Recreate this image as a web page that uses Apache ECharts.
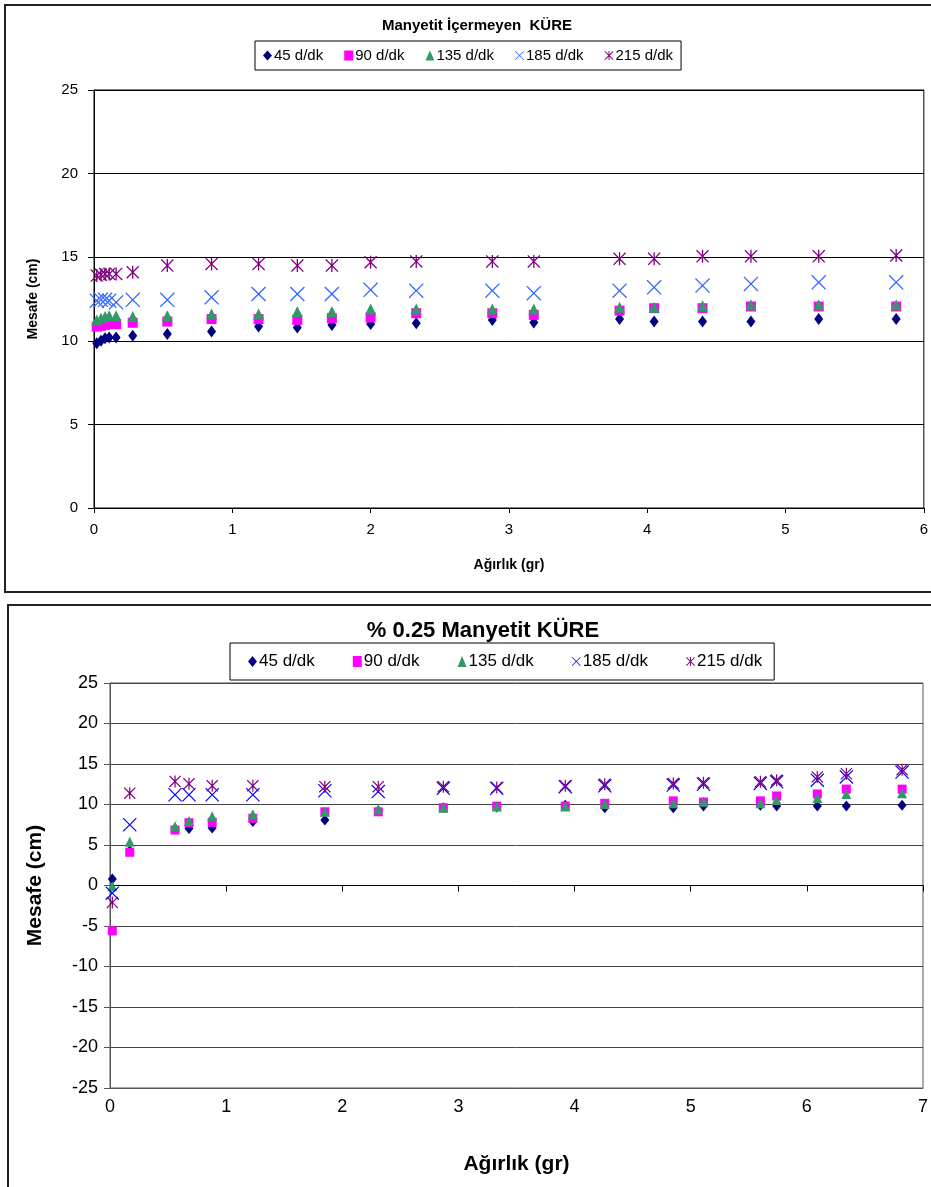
<!DOCTYPE html>
<html><head><meta charset="utf-8">
<script src="https://cdn.jsdelivr.net/npm/echarts@6/dist/echarts.min.js"></script>
<style>html,body{margin:0;padding:0;background:#fff}#c{width:931px;height:1187px}</style>
</head><body><div id="c"></div>
<script>
// ---------- data ----------
const seriesNames = ['45 d/dk', '90 d/dk', '135 d/dk', '185 d/dk', '215 d/dk'];
const titleTop = 'Manyetit İçermeyen  KÜRE';
const titleBottom = '% 0.25 Manyetit KÜRE';
const xName = 'Ağırlık (gr)';
const yName = 'Mesafe (cm)';

const topX    = [0.02, 0.05, 0.08, 0.11, 0.16, 0.28, 0.53, 0.85, 1.19, 1.47, 1.72, 2.0, 2.33, 2.88, 3.18, 3.8, 4.05, 4.4, 4.75, 5.24, 5.8];
const top45   = [9.85, 10.0, 10.15, 10.2, 10.2, 10.3, 10.4, 10.55, 10.85, 10.8, 10.95, 11.0, 11.05, 11.25, 11.1, 11.3, 11.15, 11.15, 11.15, 11.3, 11.3];
const top90   = [10.85, 10.9, 10.95, 11.0, 11.0, 11.08, 11.15, 11.3, 11.3, 11.25, 11.35, 11.4, 11.65, 11.65, 11.55, 11.8, 11.95, 11.95, 12.05, 12.05, 12.05];
const top135  = [11.25, 11.35, 11.45, 11.5, 11.5, 11.45, 11.5, 11.6, 11.6, 11.75, 11.75, 11.9, 11.9, 11.9, 11.9, 12.0, 12.0, 12.1, 12.15, 12.15, 12.15];
const top185  = [12.4, 12.45, 12.45, 12.4, 12.3, 12.45, 12.45, 12.6, 12.8, 12.8, 12.8, 13.05, 13.0, 13.0, 12.85, 13.0, 13.2, 13.3, 13.4, 13.5, 13.5];
const top215  = [13.9, 13.95, 14.0, 14.0, 14.0, 14.1, 14.5, 14.6, 14.6, 14.5, 14.5, 14.7, 14.75, 14.75, 14.75, 14.9, 14.9, 15.05, 15.05, 15.05, 15.1];

const botX    = [0.02, 0.17, 0.56, 0.68, 0.88, 1.23, 1.85, 2.31, 2.87, 3.33, 3.92, 4.26, 4.85, 5.11, 5.6, 5.74, 6.09, 6.34, 6.82];
const bot45   = [0.8, 4.3, 7.0, 7.05, 7.1, 7.9, 8.1, 9.2, 9.6, 9.7, 9.9, 9.6, 9.6, 9.8, 9.9, 9.8, 9.8, 9.8, 9.9];
const bot90   = [-5.6, 4.1, 6.85, 7.75, 7.8, 8.3, 9.1, 9.1, 9.6, 9.8, 9.8, 10.15, 10.45, 10.3, 10.45, 11.05, 11.3, 11.9, 11.9];
const bot135  = [-0.1, 5.4, 7.3, 7.95, 8.55, 8.8, 9.1, 9.4, 9.6, 9.75, 9.75, 10.05, 10.15, 10.35, 10.15, 10.55, 10.8, 11.3, 11.4];
const bot185  = [-0.95, 7.5, 11.2, 11.2, 11.2, 11.2, 11.7, 11.6, 12.0, 12.0, 12.2, 12.3, 12.4, 12.5, 12.6, 12.8, 13.0, 13.4, 14.0];
const bot215  = [-2.1, 11.4, 12.85, 12.55, 12.3, 12.3, 12.2, 12.2, 12.2, 12.1, 12.3, 12.5, 12.6, 12.7, 12.8, 13.0, 13.4, 13.8, 14.3];

// ---------- styling ----------
const FONT = 'Liberation Sans, Arial, sans-serif';
const X_PATH = 'path://M0,6L6,0L50,44L94,0L100,6L56,50L100,94L94,100L50,56L6,100L0,94L44,50Z';
const STAR_PATH = 'path://M0,7L7,0L50,43L93,0L100,7L57,50L100,93L93,100L50,57L7,100L0,93L43,50ZM45,0L55,0L55,100L45,100Z';

const topColors = ['#000080', '#FF00FF', '#339966', '#3366FF', '#800080'];
const botColors = ['#000080', '#FF00FF', '#339966', '#0000FF', '#800080'];
const symbols = ['diamond', 'rect', 'triangle', X_PATH, STAR_PATH];
const topSizes = [[9, 12], 10, [11, 11], 15, 13];
const botSizes = [[9, 11], 9, [10, 10], 14, 12];

function pairs(xs, ys) { return xs.map((x, i) => [x, ys[i]]); }
const topData = [top45, top90, top135, top185, top215];
const botData = [bot45, bot90, bot135, bot185, bot215];

const series = [];
seriesNames.forEach((n, i) => {
  series.push({
    name: n, type: 'scatter', xAxisIndex: 0, yAxisIndex: 0,
    symbol: symbols[i], symbolSize: topSizes[i],
    itemStyle: { color: topColors[i], opacity: 1 },
    data: pairs(topX, topData[i]), z: 2 + i
  });
});
seriesNames.forEach((n, i) => {
  series.push({
    name: n, type: 'scatter', xAxisIndex: 1, yAxisIndex: 1,
    symbol: symbols[i], symbolSize: botSizes[i],
    itemStyle: { color: botColors[i], opacity: 1 },
    data: pairs(botX, botData[i]), z: 2 + i
  });
});

const chart = echarts.init(document.getElementById('c'));
chart.setOption({
  animation: false,
  backgroundColor: '#fff',
  textStyle: { fontFamily: FONT },
  title: [
    { text: titleTop, left: 472, top: 13, textAlign: 'center',
      textStyle: { fontFamily: FONT, fontSize: 15, fontWeight: 'bold', color: '#000' } },
    { text: titleBottom, left: 478, top: 615, textAlign: 'center',
      textStyle: { fontFamily: FONT, fontSize: 22, fontWeight: 'bold', color: '#000' } }
  ],
  legend: [
    { data: seriesNames.map((n, i) => ({ name: n, itemStyle: { color: topColors[i] } })),
      left: 255, top: 41, orient: 'horizontal', padding: [7, 8, 7, 8],
      borderColor: '#000', borderWidth: 1, itemGap: 21, itemWidth: 9, itemHeight: 10,
      selectedMode: false,
      textStyle: { fontFamily: FONT, fontSize: 15, color: '#000', padding: [0, 0, 0, -3] } },
    { data: seriesNames.map((n, i) => ({ name: n, itemStyle: { color: botColors[i] } })),
      left: 230, top: 643, orient: 'horizontal', padding: [10, 12, 10, 18],
      borderColor: '#000', borderWidth: 1, itemGap: 38, itemWidth: 9, itemHeight: 11,
      selectedMode: false,
      textStyle: { fontFamily: FONT, fontSize: 17, color: '#000', padding: [0, 0, 0, -3] } }
  ],
  grid: [
    { left: 94, right: 4, top: 90, height: 418, show: true, borderColor: '#000', borderWidth: 1, backgroundColor: 'transparent' },
    { left: 110, right: 3, top: 683, height: 405, show: true, borderColor: '#555', borderWidth: 1, backgroundColor: 'transparent' }
  ],
  xAxis: [
    { gridIndex: 0, type: 'value', min: 0, max: 6, interval: 1, position: 'bottom',
      axisLine: { show: true, onZero: false, lineStyle: { color: '#000', width: 1 } },
      axisTick: { show: true, length: 5, lineStyle: { color: '#000' } },
      axisLabel: { fontFamily: FONT, fontSize: 15, color: '#000', margin: 14 },
      splitLine: { show: false },
      name: xName, nameLocation: 'middle', nameGap: 50,
      nameTextStyle: { fontFamily: FONT, fontSize: 14, fontWeight: 'bold', color: '#000' } },
    { gridIndex: 1, type: 'value', min: 0, max: 7, interval: 1, position: 'bottom',
      axisLine: { show: true, onZero: false, lineStyle: { color: '#555', width: 1 } },
      axisTick: { show: false },
      axisLabel: { fontFamily: FONT, fontSize: 18, color: '#000', margin: 10 },
      splitLine: { show: false },
      name: xName, nameLocation: 'middle', nameGap: 66,
      nameTextStyle: { fontFamily: FONT, fontSize: 21, fontWeight: 'bold', color: '#000' } },
    { gridIndex: 1, type: 'value', min: 0, max: 7, interval: 1, position: 'bottom',
      axisLine: { show: true, onZero: true, lineStyle: { color: '#000', width: 1 } },
      axisTick: { show: true, length: 6, lineStyle: { color: '#000' } },
      axisLabel: { show: false },
      splitLine: { show: false } }
  ],
  yAxis: [
    { gridIndex: 0, type: 'value', min: 0, max: 25, interval: 5,
      axisLine: { show: true, lineStyle: { color: '#000', width: 1 } },
      axisTick: { show: true, length: 6, lineStyle: { color: '#000' } },
      axisLabel: { fontFamily: FONT, fontSize: 15, color: '#000', margin: 16 },
      splitLine: { show: true, lineStyle: { color: '#000', width: 1 } },
      name: yName, nameLocation: 'middle', nameGap: 54, nameRotate: 90,
      nameTextStyle: { fontFamily: FONT, fontSize: 14, fontWeight: 'bold', color: '#000' } },
    { gridIndex: 1, type: 'value', min: -25, max: 25, interval: 5,
      axisLine: { show: true, onZero: false, lineStyle: { color: '#555', width: 1 } },
      axisTick: { show: true, length: 6, lineStyle: { color: '#555' } },
      axisLabel: { fontFamily: FONT, fontSize: 18, color: '#000', margin: 12 },
      splitLine: { show: true, lineStyle: { color: '#444', width: 1 } },
      name: yName, nameLocation: 'middle', nameGap: 64, nameRotate: 90,
      nameTextStyle: { fontFamily: FONT, fontSize: 21, fontWeight: 'bold', color: '#000' } }
  ],
  graphic: [
    { type: 'rect', shape: { x: 5, y: 5, width: 960, height: 587 }, silent: true, z: -1,
      style: { fill: 'none', stroke: '#222', lineWidth: 2 } },
    { type: 'rect', shape: { x: 8, y: 605, width: 960, height: 620 }, silent: true, z: -1,
      style: { fill: 'none', stroke: '#222', lineWidth: 2 } }
  ],
  series: series
});
</script>
</body></html>
